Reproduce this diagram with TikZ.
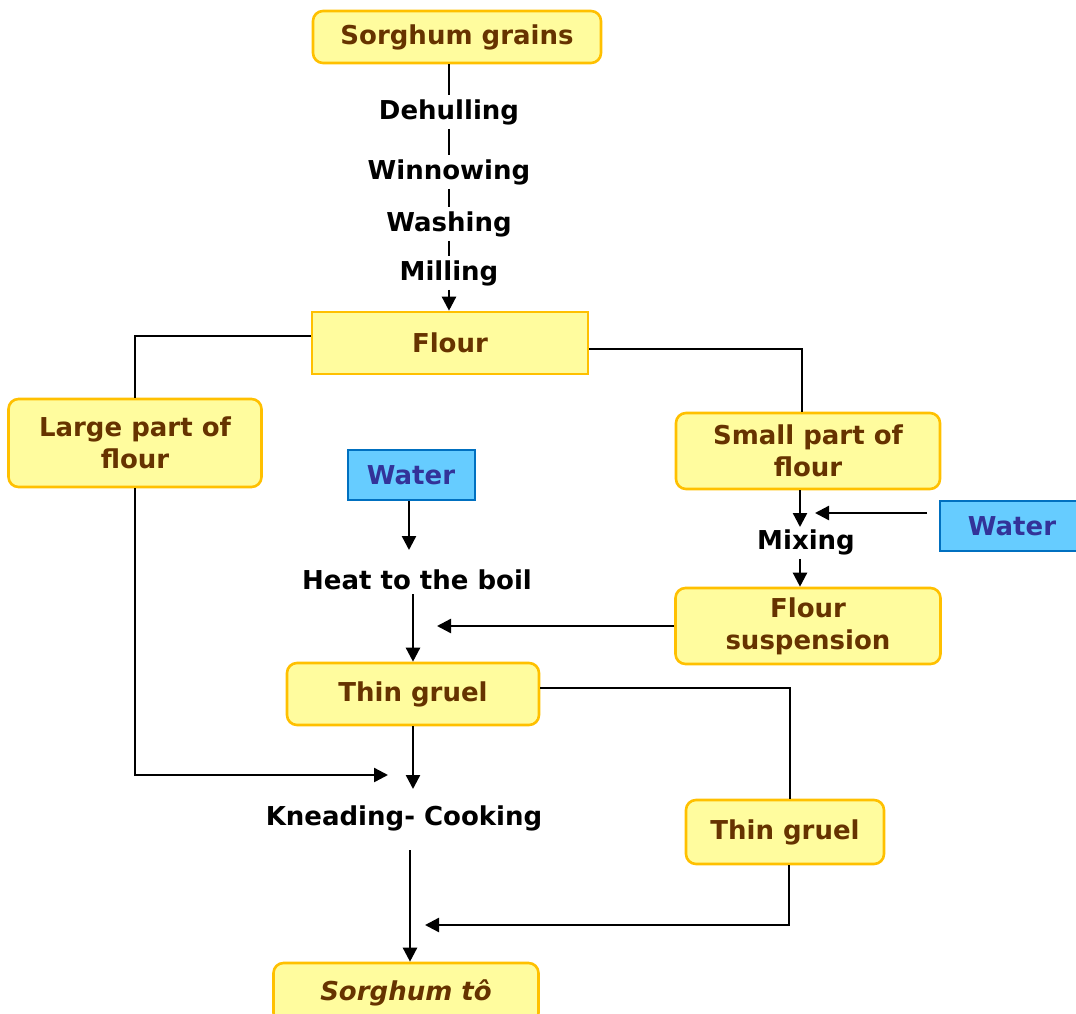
\documentclass[tikz,border=0pt]{standalone}
\usepackage{fontspec}
\setmainfont{DejaVu Sans}
\usetikzlibrary{arrows.meta}
\definecolor{boxfill}{HTML}{FFFC9E}
\definecolor{boxline}{HTML}{FFC000}
\definecolor{boxtext}{HTML}{663300}
\definecolor{waterfill}{HTML}{66CCFF}
\definecolor{waterline}{HTML}{0070C0}
\definecolor{watertext}{HTML}{333399}
\begin{document}
\begin{tikzpicture}[x=1pt,y=-1pt,
  txt/.style={font=\bfseries\fontsize{26}{32}\selectfont},
  stagebox/.style={txt, draw=boxline, fill=boxfill, text=boxtext, line width=2.6pt,
    rounded corners=10pt, align=center, inner sep=0pt},
  flatbox/.style={stagebox, rounded corners=0pt},
  waterbox/.style={txt, draw=waterline, fill=waterfill, text=watertext, line width=2pt, inner sep=0pt},
  op/.style={txt, text=black, inner sep=4pt},
  link/.style={line width=2.4pt, draw=black},
  flow/.style={link, -{Triangle[length=14pt,width=14pt]}},
]
\useasboundingbox (0,0) rectangle (1076,1014);
\clip (0,0) rectangle (1076,1014);

% boxes
\node[stagebox, minimum width=288pt, minimum height=52pt] (sg) at (457,37) {Sorghum grains};
\node[flatbox, minimum width=276pt, minimum height=62pt] (fl) at (450,343) {Flour};
\node[stagebox, minimum width=253pt, minimum height=88pt] (lp) at (135,443) {Large part of\\flour};
\node[stagebox, minimum width=264pt, minimum height=76pt] (sp) at (808,451) {Small part of\\flour};
\node[waterbox, minimum width=127pt, minimum height=50pt] (w1) at (411,475) {Water};
\node[waterbox, minimum width=144pt, minimum height=50pt] (w2) at (1012,526) {Water};
\node[stagebox, minimum width=265pt, minimum height=76pt] (fs) at (808,626) {Flour\\suspension};
\node[stagebox, minimum width=252pt, minimum height=62pt] (tg) at (413,694) {Thin gruel};
\node[stagebox, minimum width=198pt, minimum height=64pt] (tg2) at (785,832) {Thin gruel};
\node[stagebox, minimum width=265pt, minimum height=60pt] (st) at (406,993) {\itshape Sorghum tô};

% process steps
\node[op] (dh) at (449,112) {Dehulling};
\node[op] (wi) at (449,172) {Winnowing};
\node[op] (wa) at (449,224) {Washing};
\node[op] (mi) at (449,273) {Milling};
\node[op] (heat) at (417,580) {Heat to the boil};
\node[op] (mix) at (806,542) {Mixing};
\node[op] (kc) at (404,818) {Kneading- Cooking};

% free arrow ends
\coordinate (heatin) at (409,550);
\coordinate (mixin) at (800,527);
\coordinate (mixside) at (815,513);
\coordinate (gruelin) at (437,626);
\coordinate (kcin) at (413,789);
\coordinate (kcside) at (388,775);
\coordinate (kcout) at (410,850);
\coordinate (toin) at (425,925);

% grain preparation
\draw[link] (sg.south -| dh) -- (dh) -- (wi) -- (wa) -- (mi);
\draw[flow] (mi) -- (fl.north -| mi);

% flour split
\draw[link] ([yshift=7pt]fl.west) -| (lp.north);
\draw[link] ([yshift=-6pt]fl.east) -| ([xshift=-6pt]sp.north);

% suspension branch
\draw[flow] ([xshift=-8pt]sp.south) -- (mixin);
\draw[flow] ([xshift=-12pt,yshift=13pt]w2.west) -- (mixside);
\draw[flow] ([xshift=-6pt]mix.south) -- ([xshift=-8pt]fs.north);
\draw[flow] (fs.west) -- (gruelin);

% boiling branch
\draw[flow] ([xshift=-2pt]w1.south) -- (heatin);
\draw[flow] (heat.south -| tg.north) -- (tg.north);

% kneading
\draw[flow] (tg.south) -- (kcin);
\draw[flow] (lp.south) |- (kcside);
\draw[link] ([yshift=6pt]tg.east) -| ([xshift=5pt]tg2.north);
\draw[flow] ([xshift=4pt]tg2.south) |- (toin);
\draw[flow] (kcout) -- (st.north -| kcout);
\end{tikzpicture}
\end{document}
